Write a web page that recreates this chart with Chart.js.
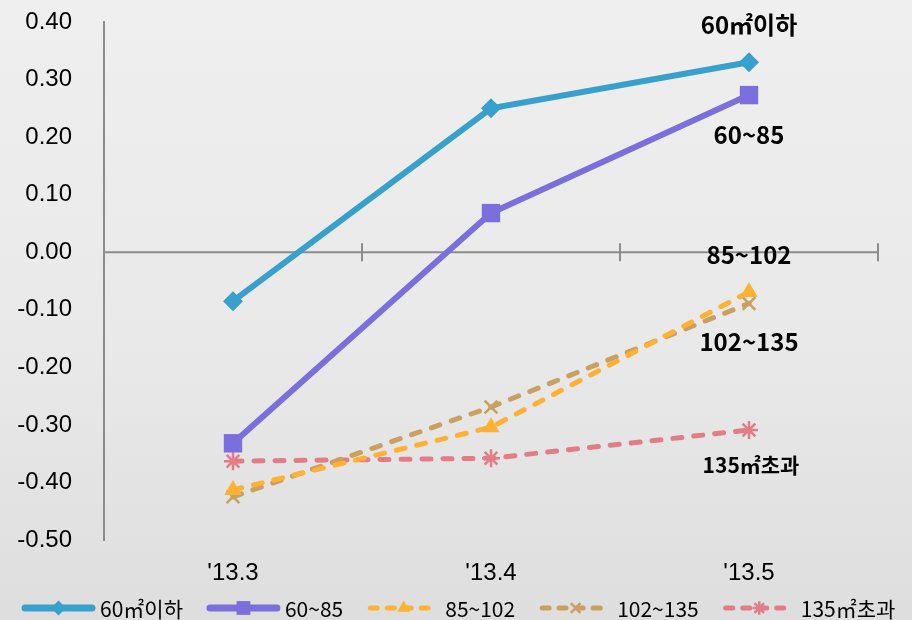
<!DOCTYPE html>
<html>
<head>
    <meta charset="utf-8">
    <title>면적별 변동률</title>
    <script src="https://cdn.jsdelivr.net/npm/chart.js"></script>
    <style>
        html, body { margin: 0; padding: 0; }
        body {
            width: 912px; height: 620px; overflow: hidden;
            background: linear-gradient(to bottom, #efefef 0%, #e9e9e9 55%, #dedede 100%);
        }
        canvas { display: block; }
    </style>
</head>
<body>
    <canvas id="myChart" width="912" height="620"></canvas>
    <script>
        // months on the x axis
        var categories = ["'13.3", "'13.4", "'13.5"];

        // change rate by floor area
        var seriesNames = ['60㎡이하', '60~85', '85~102', '102~135', '135㎡초과'];
        var area60under = [-0.085, 0.25, 0.33];
        var area60to85 = [-0.332, 0.068, 0.273];
        var area85to102 = [-0.413, -0.304, -0.069];
        var area102to135 = [-0.425, -0.269, -0.089];
        var area135over = [-0.363, -0.358, -0.309];

        // y axis range
        var yMin = -0.5;
        var yMax = 0.4;
        var yStep = 0.1;

        var axisColor = '#8c8c8c';

        // x axis line at zero with divider ticks between months
        var zeroLine = {
            id: 'zeroLine',
            beforeDatasetsDraw: function (chart) {
                var ctx = chart.ctx, x = chart.scales.x, y = chart.scales.y;
                var area = chart.chartArea;
                var y0 = y.getPixelForValue(0);
                ctx.save();
                ctx.strokeStyle = axisColor;
                ctx.lineWidth = 2;
                ctx.beginPath();
                ctx.moveTo(area.left, y0);
                ctx.lineTo(area.right, y0);
                var n = categories.length;
                for (var i = 0; i <= n; i++) {
                    var px;
                    if (i === 0) px = area.left;
                    else if (i === n) px = area.right;
                    else px = (x.getPixelForValue(i - 1) + x.getPixelForValue(i)) / 2;
                    px = Math.round(px);
                    ctx.moveTo(px, y0 - 9);
                    ctx.lineTo(px, y0 + 9);
                }
                ctx.stroke();
                ctx.restore();
            }
        };

        // series names next to the last point
        var endLabels = {
            id: 'endLabels',
            afterDatasetsDraw: function (chart, args, opts) {
                var ctx = chart.ctx;
                ctx.save();
                ctx.fillStyle = '#000';
                ctx.textAlign = 'center';
                ctx.textBaseline = 'middle';
                chart.data.datasets.forEach(function (ds, i) {
                    var pts = chart.getDatasetMeta(i).data;
                    var pt = pts[pts.length - 1];
                    ctx.font = 'bold ' + (opts.sizes[i]) + 'px "Noto Sans CJK KR", "DejaVu Sans", sans-serif';
                    ctx.fillText(ds.label, pt.x + opts.dx[i], pt.y + opts.dy[i]);
                });
                ctx.restore();
            }
        };

        // legend with line sample and marker
        var lineLegend = {
            id: 'lineLegend',
            afterDraw: function (chart) {
                var ctx = chart.ctx;
                var yc = 608;
                var x = 22;
                ctx.save();
                ctx.font = '21px "Liberation Sans Narrow", "Noto Sans CJK KR", sans-serif';
                ctx.textBaseline = 'middle';
                chart.data.datasets.forEach(function (ds) {
                    var w = 73;
                    ctx.save();
                    ctx.strokeStyle = ds.borderColor;
                    ctx.lineWidth = ds.borderDash ? 5 : 7;
                    ctx.lineCap = 'round';
                    ctx.setLineDash(ds.borderDash ? [7, 10] : []);
                    ctx.beginPath();
                    ctx.moveTo(x + 3, yc);
                    ctx.lineTo(x + w - 3, yc);
                    ctx.stroke();
                    ctx.restore();
                    ctx.save();
                    ctx.fillStyle = ds.pointBackgroundColor;
                    ctx.strokeStyle = ds.borderColor;
                    ctx.lineWidth = ds.pointBorderWidth || 1;
                    Chart.helpers.drawPoint(ctx, {
                        pointStyle: ds.pointStyle,
                        radius: ds.pointRadius * 0.75,
                        borderWidth: ds.pointBorderWidth || 0,
                        rotation: 0
                    }, x + w / 2, yc);
                    ctx.restore();
                    ctx.fillStyle = '#000';
                    ctx.fillText(ds.label, x + w + 5, yc + 1);
                    x += w + 5 + ctx.measureText(ds.label).width + 24;
                });
                ctx.restore();
            }
        };

        var ctx = document.getElementById('myChart').getContext('2d');
        var myChart = new Chart(ctx, {
            type: 'line',
            data: {
                labels: categories,
                datasets: [{
                    label: seriesNames[0],
                    data: area60under,
                    borderColor: '#37a0cc',
                    pointBackgroundColor: '#37a0cc',
                    borderWidth: 6,
                    pointStyle: 'rectRot',
                    pointRadius: 10,
                    pointBorderWidth: 0
                }, {
                    label: seriesNames[1],
                    data: area60to85,
                    borderColor: '#7a6fdd',
                    pointBackgroundColor: '#7a6fdd',
                    borderWidth: 6,
                    pointStyle: 'rect',
                    pointRadius: 13,
                    pointBorderWidth: 0
                }, {
                    label: seriesNames[2],
                    data: area85to102,
                    borderColor: '#ffb134',
                    pointBackgroundColor: '#ffb134',
                    borderWidth: 5,
                    borderDash: [9, 12],
                    borderCapStyle: 'round',
                    pointStyle: 'triangle',
                    pointRadius: 10,
                    pointBorderWidth: 0
                }, {
                    label: seriesNames[3],
                    data: area102to135,
                    borderColor: '#c9a060',
                    pointBackgroundColor: '#c9a060',
                    borderWidth: 5,
                    borderDash: [9, 12],
                    borderCapStyle: 'round',
                    pointStyle: 'crossRot',
                    pointRadius: 9,
                    pointBorderWidth: 2.5
                }, {
                    label: seriesNames[4],
                    data: area135over,
                    borderColor: '#e27c87',
                    pointBackgroundColor: '#e27c87',
                    borderWidth: 5,
                    borderDash: [9, 12],
                    borderCapStyle: 'round',
                    pointStyle: 'star',
                    pointRadius: 9,
                    pointBorderWidth: 2.5
                }]
            },
            options: {
                responsive: false,
                animation: false,
                devicePixelRatio: 1,
                layout: { padding: { left: 0, top: 22, right: 34, bottom: 40 } },
                plugins: {
                    legend: { display: false },
                    tooltip: { enabled: false },
                    endLabels: {
                        dx: [0, 0, 0, 0, 2],
                        dy: [-37, 40, -37, 38, 35],
                        sizes: [24, 24, 24, 24, 21]
                    }
                },
                scales: {
                    x: {
                        offset: true,
                        grid: { display: false, drawTicks: false },
                        border: { display: false },
                        ticks: {
                            color: '#000',
                            padding: 19,
                            font: { family: '"Liberation Sans", Arial, sans-serif', size: 24 }
                        },
                        afterFit: function (scale) { scale.height = 40; }
                    },
                    y: {
                        min: yMin,
                        max: yMax,
                        grid: { display: false, drawTicks: false },
                        border: { display: true, color: axisColor, width: 2 },
                        ticks: {
                            stepSize: yStep,
                            color: '#000',
                            padding: 32,
                            font: { family: '"Liberation Sans", Arial, sans-serif', size: 24 },
                            callback: function (v) {
                                return Math.abs(v) < 1e-9 ? '0.00' : v.toFixed(2);
                            }
                        },
                        afterFit: function (scale) {
                            scale.width = 104;
                            scale.paddingTop = 0;
                            scale.paddingBottom = 0;
                        }
                    }
                }
            },
            plugins: [zeroLine, endLabels, lineLegend]
        });
    </script>
</body>
</html>
